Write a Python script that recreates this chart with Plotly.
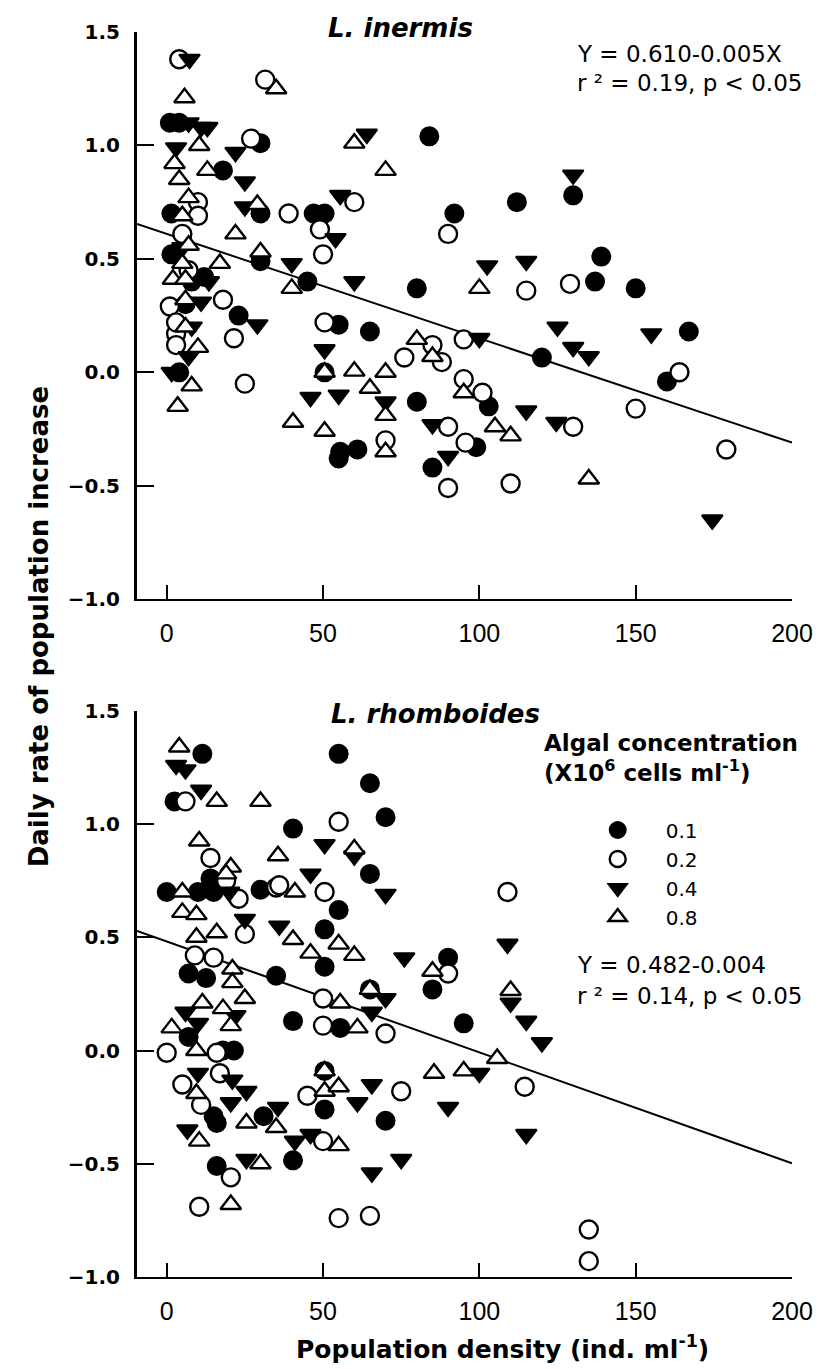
import plotly.graph_objects as go

# ---------------- data ----------------
# Top panel: L. inermis
top_x_01 = [1, 4, 30, 18, 30, 1.5, 30, 1.5, 23, 4, 47, 50.5, 45, 80, 84, 92, 112, 130, 139, 137,
            150, 167, 120, 160, 103, 99, 85, 80, 55, 65, 50.5, 55.5, 61, 55, 8, 12, 6]
top_y_01 = [1.10, 1.10, 1.01, 0.89, 0.70, 0.70, 0.49, 0.52, 0.25, 0.0, 0.70, 0.70, 0.40, 0.37, 1.04, 0.70, 0.75, 0.78, 0.51, 0.40,
            0.37, 0.18, 0.065, -0.04, -0.15, -0.33, -0.42, -0.13, 0.21, 0.18, 0.0, -0.35, -0.34, -0.38, 0.40, 0.42, 0.30]

top_x_02 = [4, 31.5, 27, 10, 10, 5, 39, 49, 50, 60, 90, 115, 129, 18, 1, 3, 3, 21.5, 25, 50.5,
            76, 85, 88, 95, 95, 101, 70, 90, 95.6, 90, 110, 130, 150, 164, 179, 3, 7]
top_y_02 = [1.38, 1.29, 1.03, 0.75, 0.69, 0.61, 0.70, 0.63, 0.52, 0.75, 0.61, 0.36, 0.39, 0.32, 0.29, 0.17, 0.12, 0.15, -0.05, 0.22,
            0.065, 0.12, 0.045, 0.145, -0.03, -0.09, -0.30, -0.24, -0.31, -0.51, -0.49, -0.24, -0.16, 0.0, -0.34, 0.22, 0.45]

top_x_04 = [7.3, 7, 11, 13, 3, 22, 25, 25, 64, 55.5, 54, 40, 60, 13.5, 11, 29, 7, 1.6, 50.5, 46,
            55, 70, 85, 90, 100, 102.5, 115, 130, 125, 130, 135, 155, 115, 124.6, 174.5, 5, 8]
top_y_04 = [1.38, 1.10, 1.08, 1.08, 0.99, 0.97, 0.84, 0.73, 1.05, 0.78, 0.59, 0.48, 0.40, 0.40, 0.31, 0.21, 0.07, 0.0, 0.10, -0.11,
            -0.10, -0.13, -0.23, -0.37, 0.15, 0.47, 0.49, 0.87, 0.20, 0.11, 0.07, 0.17, -0.17, -0.22, -0.65, 0.55, 0.20]

top_x_08 = [5.7, 35, 60, 10.4, 2.5, 4, 13, 7, 29, 5, 22, 7, 17, 30, 5, 2, 6, 6, 6, 10,
            8, 3.5, 70, 40, 100, 80, 85, 95, 50.5, 60, 70, 65, 70, 40.4, 50.5, 70, 105, 110, 135]
top_y_08 = [1.21, 1.25, 1.01, 1.0, 0.92, 0.85, 0.89, 0.77, 0.74, 0.69, 0.61, 0.56, 0.48, 0.53, 0.48, 0.41, 0.41, 0.32, 0.20, 0.11,
            -0.06, -0.15, 0.89, 0.37, 0.37, 0.145, 0.07, -0.09, 0.0, 0.005, 0.0, -0.07, -0.19, -0.22, -0.26, -0.35, -0.24, -0.28, -0.47]

# Bottom panel: L. rhomboides
bot_x_01 = [11.4, 2.5, 14, 0, 10, 15, 30, 7, 12.6, 35, 7, 21.5, 15, 40.4, 55.5, 65, 95, 70, 50.5, 50.5,
            16, 31, 40.4, 16, 55, 65, 70, 40.4, 65, 55, 50.5, 50.5, 90, 85, 18]
bot_y_01 = [1.31, 1.10, 0.76, 0.70, 0.70, 0.70, 0.71, 0.34, 0.32, 0.33, 0.06, 0.0, -0.29, 0.13, 0.10, 0.27, 0.12, -0.31, -0.09, -0.26,
            -0.32, -0.29, -0.485, -0.51, 1.31, 1.18, 1.03, 0.98, 0.78, 0.62, 0.535, 0.37, 0.41, 0.27, 0.0]

bot_x_02 = [6, 14, 19, 23, 35, 25, 9, 15, 0, 16, 5, 17, 11, 50, 50, 70, 75, 45, 50, 20.5,
            10.4, 55, 65, 55, 50.5, 36, 90, 109, 114.5, 135, 135]
bot_y_02 = [1.10, 0.85, 0.75, 0.67, 0.72, 0.515, 0.42, 0.41, -0.01, -0.01, -0.15, -0.10, -0.24, 0.23, 0.11, 0.075, -0.18, -0.20, -0.40, -0.56,
            -0.69, -0.74, -0.73, 1.01, 0.70, 0.73, 0.34, 0.70, -0.16, -0.79, -0.93]

bot_x_04 = [3, 6, 11, 20, 25, 36, 6, 10, 22, 10, 21, 25.5, 20.5, 6.6, 65.6, 70, 100, 90, 65.6, 75,
            65.6, 61, 35.6, 41, 46, 25.5, 50.5, 60, 46, 70, 76, 109, 110, 115, 120, 115]
bot_y_04 = [1.26, 1.24, 1.15, 0.70, 0.58, 0.55, 0.17, 0.12, 0.155, -0.10, -0.13, -0.18, -0.23, -0.35, 0.17, 0.23, -0.10, -0.25, -0.15, -0.48,
            -0.54, -0.23, -0.25, -0.40, -0.37, -0.48, 0.91, 0.86, 0.78, 0.69, 0.41, 0.47, 0.21, 0.13, 0.035, -0.37]

bot_x_08 = [4, 16, 30, 10.4, 20.5, 19, 5, 5, 9.5, 9.5, 16, 21, 21, 11.4, 18, 25, 1.6, 20.5, 9.5, 9.5,
            55.5, 61, 65, 85.5, 95, 50.5, 50.5, 55, 10.4, 25.5, 35, 55, 30, 20.5, 60, 35.6, 41, 40.4, 55, 60,
            46, 85, 110, 105.7]
bot_y_08 = [1.34, 1.10, 1.10, 0.925, 0.81, 0.78, 0.70, 0.61, 0.60, 0.50, 0.52, 0.36, 0.30, 0.21, 0.185, 0.23, 0.10, 0.11, 0.0, -0.19,
            0.21, 0.10, 0.27, -0.10, -0.09, -0.09, -0.18, -0.16, -0.40, -0.32, -0.34, -0.42, -0.50, -0.68, 0.89, 0.86, 0.70, 0.49, 0.47, 0.42,
            0.43, 0.35, 0.265, -0.035]

series_names = ["0.1", "0.2", "0.4", "0.8"]

# regression lines: (intercept, slope)
fit_top = (0.610, -0.0046)
fit_bot = (0.482, -0.0049)
x_range = [-9.5, 200]
y_range = [-1.0, 1.5]
x_ticks = [0, 50, 100, 150, 200]
y_ticks = [-1.0, -0.5, 0.0, 0.5, 1.0, 1.5]

eq_top = ["Y = 0.610-0.005X", "r ² = 0.19, p &lt; 0.05"]
eq_bot = ["Y = 0.482-0.004", "r ² = 0.14, p &lt; 0.05"]

# ---------------- styling ----------------
PAGE_W, PAGE_H = 825, 1369
OFF = 8                                   # default body margin of the html page
W, H = PAGE_W - OFF, PAGE_H - OFF
L, R, T, B = 137, 800, 28, 1277           # plot-area box in page pixels
TOP_BOTTOM_PX = 597
BOT_TOP_PX = 709

def px(xp, yp):
    return (xp - L) / (R - L), (B - yp) / (B - T)

styles = {
    "0.1": dict(symbol="circle", color="black", line=dict(color="black", width=2)),
    "0.2": dict(symbol="circle", color="white", line=dict(color="black", width=2.4)),
    "0.4": dict(symbol="triangle-down", color="black", line=dict(color="black", width=2)),
    "0.8": dict(symbol="triangle-up", color="white", line=dict(color="black", width=2.4)),
}
MSIZE = 18

fig = go.Figure()

panels = [
    ("x", "y", [top_x_01, top_x_02, top_x_04, top_x_08], [top_y_01, top_y_02, top_y_04, top_y_08], fit_top, False),
    ("x2", "y2", [bot_x_01, bot_x_02, bot_x_04, bot_x_08], [bot_y_01, bot_y_02, bot_y_04, bot_y_08], fit_bot, True),
]

for xa, ya, xs, ys, fit, show in panels:
    a, b = fit
    fig.add_trace(go.Scatter(
        x=x_range, y=[a + b * x_range[0], a + b * x_range[1]],
        mode="lines", line=dict(color="black", width=2),
        xaxis=xa, yaxis=ya, showlegend=False, hoverinfo="skip"))
    for name, xv, yv in zip(series_names, xs, ys):
        st = styles[name]
        fig.add_trace(go.Scatter(
            x=xv, y=yv, mode="markers", name=name,
            marker=dict(symbol=st["symbol"], size=MSIZE, color=st["color"], line=st["line"]),
            xaxis=xa, yaxis=ya, showlegend=show, cliponaxis=False))

top_dom = [(B - TOP_BOTTOM_PX) / (B - T), 1.0]
bot_dom = [0.0, (B - BOT_TOP_PX) / (B - T)]

xaxis_common = dict(
    range=x_range, tickvals=x_ticks, ticks="inside", ticklen=14, tickwidth=2, tickcolor="black",
    showline=True, linecolor="black", linewidth=2, showgrid=False, zeroline=False,
    tickfont=dict(family="Liberation Sans, Arial", size=25, color="black"), ticklabelstandoff=11,
)
yaxis_common = dict(
    range=y_range, tickvals=y_ticks, tickformat=".1f", ticks="inside", ticklen=17, tickwidth=2, tickcolor="black",
    showline=True, linecolor="black", linewidth=3, showgrid=False, zeroline=False,
    tickfont=dict(family="DejaVu Sans", size=20, color="black", weight="bold"), ticklabelstandoff=10,
)

fig.update_layout(
    width=W, height=H,
    margin=dict(l=L - OFF, r=PAGE_W - R, t=T - OFF, b=PAGE_H - B, pad=0),
    plot_bgcolor="white", paper_bgcolor="white",
    xaxis=dict(domain=[0, 1], anchor="y", **xaxis_common),
    yaxis=dict(domain=top_dom, anchor="x", **yaxis_common),
    xaxis2=dict(domain=[0, 1], anchor="y2", **xaxis_common),
    yaxis2=dict(domain=bot_dom, anchor="x2", **yaxis_common),
    legend=dict(
        x=px(575, 0)[0], y=px(0, 809)[1], xanchor="left", yanchor="top",
        font=dict(family="DejaVu Sans", size=20, color="black"),
        bgcolor="rgba(0,0,0,0)", borderwidth=0, itemwidth=86, tracegroupgap=0,
        itemsizing="trace",
    ),
    showlegend=True,
)

ann = []
def add_text(text, xp, yp, size, family="DejaVu Sans", xanchor="left", yanchor="middle", bold=False, italic=False, angle=0):
    t = text
    if italic:
        t = "<i>" + t + "</i>"
    if bold:
        t = "<b>" + t + "</b>"
    xx, yy = px(xp, yp)
    ann.append(dict(text=t, x=xx, y=yy, xref="paper", yref="paper", xanchor=xanchor, yanchor=yanchor,
                    showarrow=False, textangle=angle, font=dict(family=family, size=size, color="black")))

add_text("L. inermis", 328, 24, 26, bold=True, italic=True)
add_text("L. rhomboides", 331, 712, 26, bold=True, italic=True)
add_text(eq_top[0], 580, 50, 23)
add_text(eq_top[1], 580, 79, 23)
add_text(eq_bot[0], 580, 964, 23)
add_text(eq_bot[1], 580, 995, 23)
add_text("Algal concentration", 547, 741, 23, bold=True)
add_text("(X10<sup>6</sup> cells ml<sup>-1</sup>)", 547, 769, 23, bold=True)
add_text("Daily rate of population increase", 38, 625, 26, bold=True, xanchor="center", angle=-90)
add_text("Population density (ind. ml<sup>-1</sup>)", 507, 1348, 25, bold=True, xanchor="center")

fig.update_layout(annotations=ann)
fig.write_html("out.html")
